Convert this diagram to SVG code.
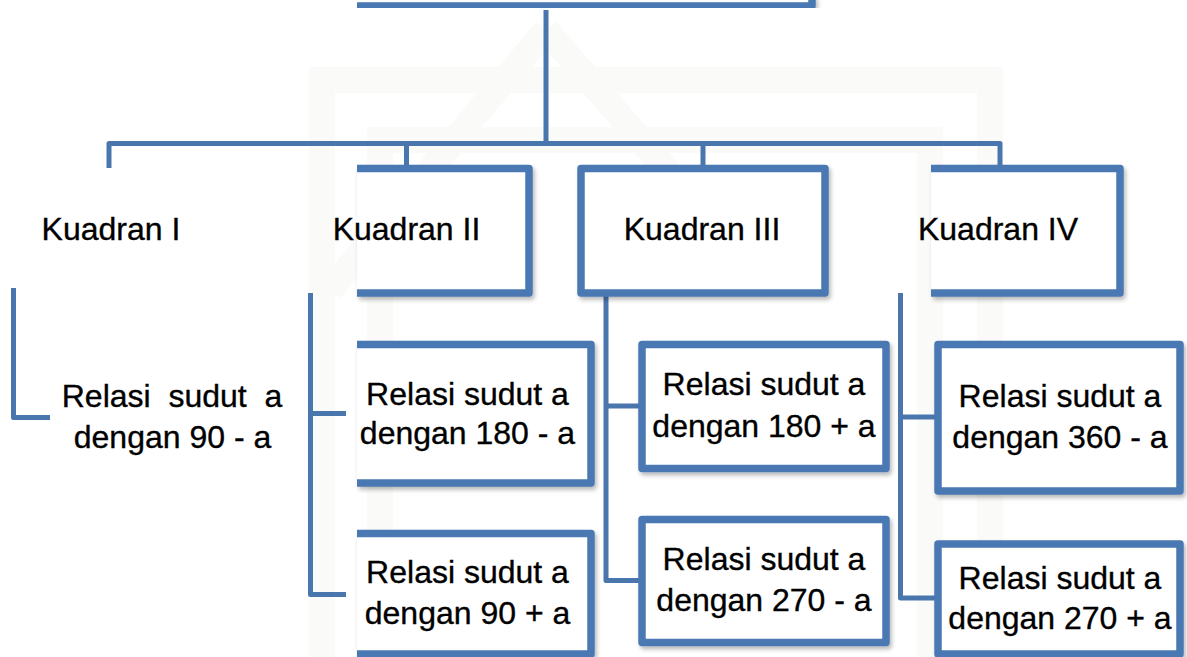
<svg xmlns="http://www.w3.org/2000/svg" width="1187" height="657" viewBox="0 0 1187 657">
  <defs>
    <filter id="shadow" x="-10%" y="-10%" width="130%" height="130%">
      <feDropShadow dx="2" dy="3" stdDeviation="2" flood-color="#000" flood-opacity="0.28"/>
    </filter>
  </defs>
  <style>
    .box { fill: none; stroke: #4A78B3; stroke-width: 7.5; stroke-linejoin: round; stroke-linecap: butt; }
    .fill { fill: #ffffff; stroke: none; }
    .wire { fill: none; stroke: #4A76AE; stroke-width: 5; stroke-linejoin: round; stroke-linecap: butt; }
    .label { font-family: "Liberation Sans", Arial, sans-serif; font-size: 32px; fill: #000; stroke: #000; stroke-width: 0.35; text-anchor: middle; white-space: pre; }
    .mark { fill: none; stroke: #fafaf8; stroke-width: 26; }
  </style>

  <rect x="0" y="0" width="1187" height="657" fill="#ffffff"/>

  <!-- faint background emblem -->
  <g id="watermark">
    <path class="mark" d="M322,657 V80 H990 V657"/>
    <path class="mark" d="M380,657 V140 H930 V657"/>
    <path class="mark" d="M546,30 L330,290 M546,30 L770,290"/>
  </g>

  <!-- connectors -->
  <g id="connectors">
    <path class="wire" d="M546,10 V143.5"/>
    <path class="wire" d="M109,168 V143.5 H1000 V166"/>
    <path class="wire" d="M406.5,143.5 V166"/>
    <path class="wire" d="M703,143.5 V166"/>
    <path class="wire" d="M13.5,288 V417.5 H50"/>
    <path class="wire" d="M310.5,293 V594.5 H346 M310.5,413.5 H346"/>
    <path class="wire" d="M606,296 V580.5 H640 M606,406 H640"/>
    <path class="wire" d="M900.5,293 V598 H936 M900.5,417 H936"/>
  </g>

  <!-- root box (only its lower edge is in frame) -->
  <g id="root" filter="url(#shadow)">
    <path class="box" d="M357,6 H812 V-4"/>
  </g>

  <!-- quadrant headers -->
  <g id="kuadran-1">
    <text class="label" x="111" y="240">Kuadran I</text>
  </g>
  <g id="kuadran-2">
    <g filter="url(#shadow)">
      <rect class="fill" x="357" y="168.5" width="172" height="124.5"/>
      <path class="box" d="M357,168.5 H529 V293 H357"/>
    </g>
    <text class="label" x="406.5" y="240">Kuadran II</text>
  </g>
  <g id="kuadran-3">
    <rect class="box fill" x="581" y="168.5" width="244" height="124.5" filter="url(#shadow)" style="stroke:#4A78B3;stroke-width:7.5"/>
    <text class="label" x="702" y="240">Kuadran III</text>
  </g>
  <g id="kuadran-4">
    <g filter="url(#shadow)">
      <rect class="fill" x="931" y="168.5" width="189" height="124.5"/>
      <path class="box" d="M931,168.5 H1120 V293 H931"/>
    </g>
    <text class="label" x="998" y="240">Kuadran IV</text>
  </g>

  <!-- quadrant I relation (no frame) -->
  <g id="relasi-90-min">
    <text class="label" x="172" y="407">Relasi  sudut  a</text>
    <text class="label" x="172.5" y="448">dengan 90 - a</text>
  </g>

  <!-- quadrant II relations -->
  <g id="relasi-180-min">
    <g filter="url(#shadow)">
      <rect class="fill" x="357" y="344.5" width="234" height="138.5"/>
      <path class="box" d="M357,344.5 H591 V483 H357"/>
    </g>
    <text class="label" x="467.5" y="405">Relasi sudut a</text>
    <text class="label" x="467.5" y="444">dengan 180 - a</text>
  </g>
  <g id="relasi-90-plus">
    <g filter="url(#shadow)">
      <rect class="fill" x="357" y="533.5" width="234" height="120"/>
      <path class="box" d="M357,533.5 H591 V654 H357"/>
    </g>
    <text class="label" x="467.5" y="583">Relasi sudut a</text>
    <text class="label" x="467.5" y="624">dengan 90 + a</text>
  </g>

  <!-- quadrant III relations -->
  <g id="relasi-180-plus">
    <rect class="box fill" x="642" y="344.5" width="244" height="124" filter="url(#shadow)" style="stroke:#4A78B3;stroke-width:7.5"/>
    <text class="label" x="764" y="395">Relasi sudut a</text>
    <text class="label" x="764" y="437">dengan 180 + a</text>
  </g>
  <g id="relasi-270-min">
    <rect class="box fill" x="642" y="519.5" width="244" height="123" filter="url(#shadow)" style="stroke:#4A78B3;stroke-width:7.5"/>
    <text class="label" x="764" y="570">Relasi sudut a</text>
    <text class="label" x="764" y="611">dengan 270 - a</text>
  </g>

  <!-- quadrant IV relations -->
  <g id="relasi-360-min">
    <rect class="box fill" x="938" y="344.5" width="242" height="146.5" filter="url(#shadow)" style="stroke:#4A78B3;stroke-width:7.5"/>
    <text class="label" x="1060" y="407">Relasi sudut a</text>
    <text class="label" x="1060" y="448">dengan 360 - a</text>
  </g>
  <g id="relasi-270-plus">
    <rect class="box fill" x="938" y="544" width="242" height="110" filter="url(#shadow)" style="stroke:#4A78B3;stroke-width:7.5"/>
    <text class="label" x="1060" y="589">Relasi sudut a</text>
    <text class="label" x="1060" y="629">dengan 270 + a</text>
  </g>
</svg>
